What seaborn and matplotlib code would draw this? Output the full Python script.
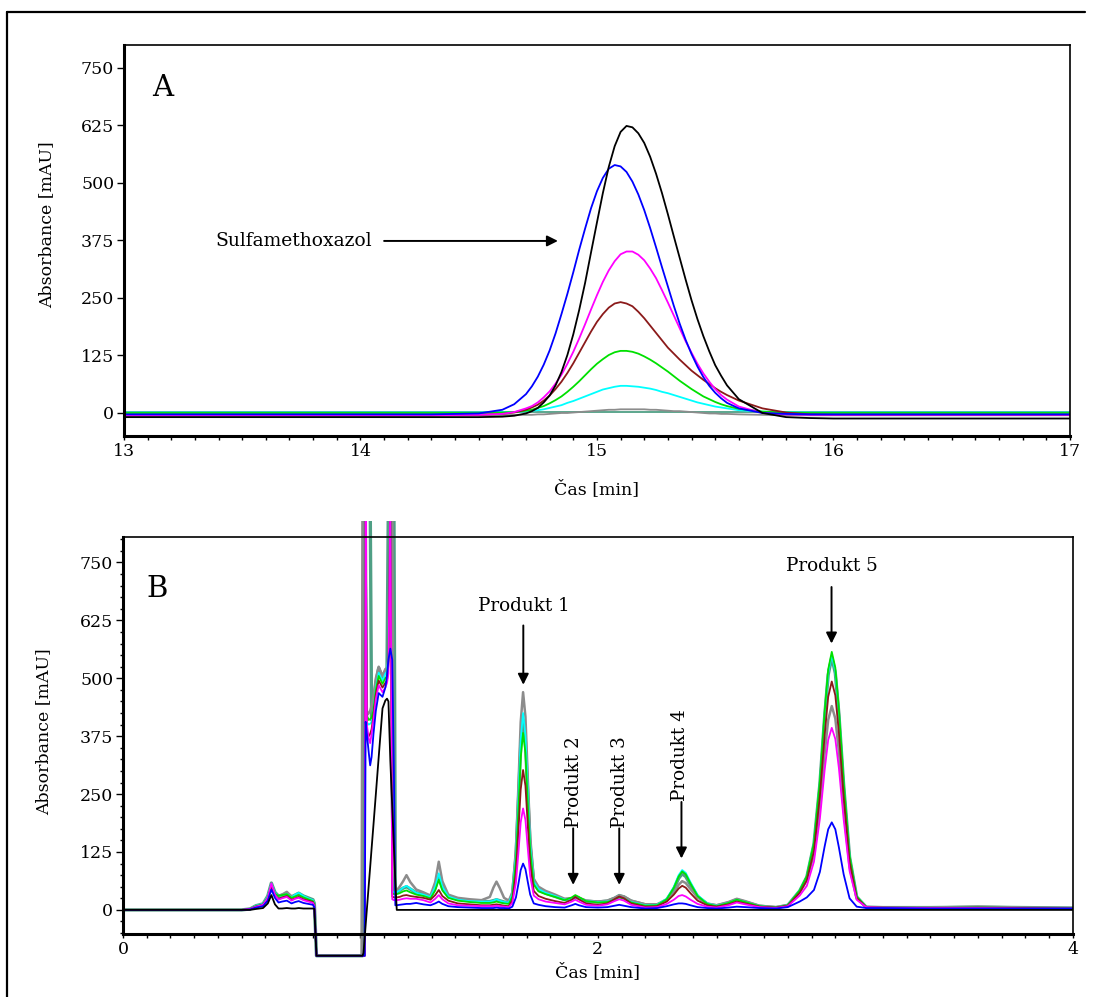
import pandas as pd
import matplotlib.pyplot as plt
import seaborn as sns
from matplotlib.patches import Rectangle
from matplotlib.lines import Line2D
from matplotlib.ticker import MultipleLocator

sns.set_theme(style="white")
plt.rcParams["font.family"] = ["DejaVu Serif"]
plt.rcParams["axes.edgecolor"] = "black"
plt.rcParams["xtick.color"] = "black"
plt.rcParams["ytick.color"] = "black"
plt.rcParams["text.color"] = "black"
plt.rcParams["axes.labelcolor"] = "black"

# ---------------- panel A : sulfamethoxazol peak (time in min, absorbance in mAU)
t_a = [13.0, 13.5, 14.0, 14.3, 14.5, 14.6, 14.65,
       14.7, 14.725, 14.75, 14.775, 14.8, 14.825, 14.85, 14.875, 14.9, 14.925, 14.95, 14.975,
       15.0, 15.025, 15.05, 15.075, 15.1, 15.125, 15.15, 15.175, 15.2, 15.225, 15.25, 15.275,
       15.3, 15.325, 15.35, 15.375, 15.4, 15.425, 15.45, 15.475, 15.5, 15.525, 15.55,
       15.6, 15.7, 15.8, 15.9, 16.0, 16.5, 17.0]

black_a = [-9, -9, -9, -9, -9, -8, -6,
           -1, 4, 11, 23, 38, 60, 89, 126, 171, 224, 283, 349,
           414, 478, 535, 580, 611, 624, 621, 608, 587, 557, 520, 478,
           432, 384, 337, 290, 245, 204, 167, 134, 104, 81, 60,
           30, 0, -9, -11, -12, -12, -12]
blue_a = [-3, -3, -3, -3, -1, 7, 19,
          41, 58, 79, 105, 136, 173, 215, 259, 306, 355, 401, 445,
          482, 511, 531, 539, 536, 524, 503, 475, 441, 402, 360, 317,
          275, 233, 194, 159, 128, 101, 78, 59, 44, 32, 22,
          10, 0, -2, -3, -3, -3, -3]
magenta_a = [-5, -5, -5, -5, -4, -2, 2,
             10, 15, 23, 34, 47, 64, 83, 107, 133, 162, 193, 225,
             256, 285, 310, 330, 345, 351, 351, 344, 332, 314, 293, 267,
             240, 212, 184, 156, 131, 107, 86, 68, 52, 39, 29,
             14, 0, -3, -4, -4, -4, -4]
brown_a = [-4, -4, -4, -4, -4, -2, 1,
           7, 12, 18, 27, 38, 52, 68, 87, 108, 131, 154, 177,
           198, 215, 229, 238, 241, 238, 232, 220, 206, 190, 174, 158,
           142, 129, 116, 104, 92, 82, 72, 63, 54, 46, 39,
           27, 10, 1, -3, -4, -4, -4]
green_a = [0, 0, 0, 0, 0, 1, 2,
           5, 7, 11, 15, 21, 28, 36, 46, 57, 69, 82, 95,
           107, 117, 126, 132, 135, 135, 133, 129, 123, 116, 108, 99,
           90, 80, 70, 61, 52, 44, 36, 30, 24, 19, 15,
           9, 3, 1, 0, 0, 0, 0]
cyan_a = [1, 1, 1, 1, 1, 2, 2,
          4, 5, 6, 8, 11, 14, 17, 22, 26, 31, 36, 41,
          46, 51, 54, 57, 59, 59, 58, 57, 55, 53, 50, 46,
          43, 39, 35, 31, 27, 23, 20, 17, 14, 12, 10,
          6, 3, 2, 1, 1, 1, 1]
gray_a = [-8, -8, -7, -6, -5, -5, -4,
          -4, -4, -3, -3, -2, -1, 0, 0, 1, 2, 3, 4,
          5, 6, 7, 7, 8, 8, 8, 8, 8, 7, 7, 6,
          5, 4, 4, 3, 2, 1, 0, -1, -1, -2, -2,
          -3, -4, -5, -5, -5, -5, -5]
teal_a = [2, 2, 2, 2, 2, 2, 2,
          2, 2, 2, 2, 2, 2, 2, 2, 2, 2, 2, 2,
          2, 2, 2, 2, 2, 2, 2, 2, 2, 2, 2, 2,
          2, 2, 2, 2, 2, 2, 2, 2, 2, 2, 2,
          2, 2, 2, 2, 2, 2, 2]

# ---------------- panel B : degradation products
t_b = [0.0, 0.5, 0.535, 0.56, 0.59, 0.61, 0.625, 0.64, 0.655, 0.67, 0.69, 0.71, 0.725, 0.74, 0.76, 0.78, 0.8, 0.806, 0.815,
       1.005, 1.009, 1.013, 1.018, 1.022, 1.027, 1.035, 1.041, 1.047, 1.055, 1.065, 1.077, 1.093, 1.105, 1.112, 1.118, 1.126, 1.134, 1.141, 1.147, 1.153, 1.165,
       1.18, 1.194, 1.21, 1.235, 1.265, 1.295, 1.315, 1.33, 1.345, 1.37, 1.41, 1.46, 1.51, 1.545, 1.56, 1.573, 1.586, 1.605, 1.625,
       1.64, 1.655, 1.665, 1.675, 1.685, 1.695, 1.705, 1.715, 1.73, 1.75, 1.78, 1.82,
       1.86, 1.89, 1.905, 1.92, 1.95, 2.0, 2.04, 2.07, 2.09, 2.11, 2.14, 2.2, 2.25, 2.29, 2.32, 2.34, 2.355, 2.37, 2.39, 2.42, 2.46, 2.5, 2.55, 2.585, 2.62, 2.68, 2.75,
       2.8, 2.85, 2.88, 2.91, 2.935, 2.955, 2.97, 2.985, 3.0, 3.015, 3.035, 3.06, 3.09, 3.13, 3.2,
       3.4, 3.6, 3.8, 4.0]

gray_b = [0, 0, 2, 8, 12, 28, 52, 36, 28, 33, 39, 29, 31, 34, 28, 24, 20, 12, -99,
          -99, 900, 900, 900, 900, 420, 425, 430, 440, 460, 500, 525, 505, 520, 522, 540, 900, 900, 42, 42, 42, 50,
          62, 75, 60, 44, 38, 31, 60, 104, 62, 33, 26, 23, 21, 28, 48, 61, 48, 26, 20,
          38, 131, 262, 405, 470, 417, 282, 157, 67, 50, 41, 33,
          24, 25, 28, 26, 20, 18, 20, 26, 31, 29, 20, 12, 12, 20, 36, 54, 62, 58, 45, 27, 13, 10, 17, 24, 19, 9, 6,
          10, 38, 64, 120, 222, 338, 410, 440, 413, 342, 219, 93, 24, 6, 5,
          5, 7, 5, 4]
teal_b = [0, 0, 2, 9, 13, 30, 58, 38, 30, 32, 35, 28, 32, 36, 30, 26, 22, 14, -99,
          -99, -99, 900, 900, 900, 900, 900, 900, 410, 440, 490, 522, 500, 515, 520, 900, 900, 900, 900, 38, 38, 42,
          47, 50, 45, 37, 34, 28, 48, 72, 48, 29, 23, 20, 18, 18, 20, 22, 20, 17, 16,
          32, 113, 228, 354, 410, 362, 246, 137, 59, 43, 36, 29,
          22, 24, 28, 25, 19, 17, 19, 25, 31, 28, 19, 11, 11, 22, 45, 68, 78, 72, 54, 29, 13, 9, 15, 22, 17, 8, 5,
          10, 41, 71, 142, 272, 417, 508, 545, 511, 423, 270, 114, 28, 6, 5,
          5, 6, 5, 4]
cyan_b = [0, 0, 2, 9, 13, 29, 56, 37, 29, 31, 34, 27, 33, 37, 30, 25, 21, 13, -99,
          -99, -99, -99, -99, 900, 405, 400, 402, 405, 430, 480, 512, 495, 510, 515, 550, 900, 40, 38, 38, 38, 42,
          48, 52, 46, 37, 33, 28, 50, 79, 50, 29, 22, 19, 18, 18, 20, 23, 20, 17, 16,
          34, 118, 237, 367, 425, 377, 255, 142, 61, 45, 37, 30,
          22, 24, 28, 25, 19, 17, 18, 22, 26, 24, 17, 10, 11, 24, 50, 75, 86, 80, 60, 32, 14, 9, 15, 22, 17, 8, 5,
          10, 42, 72, 144, 275, 421, 513, 550, 516, 427, 273, 116, 29, 6, 5,
          4, 5, 4, 4]
green_b = [0, 0, 2, 8, 12, 27, 53, 35, 30, 32, 34, 26, 29, 32, 27, 23, 19, 12, -99,
           -99, -99, -99, -99, 900, 420, 410, 412, 415, 430, 475, 505, 488, 500, 505, 540, 900, 36, 34, 34, 34, 36,
           40, 42, 38, 33, 30, 25, 42, 65, 42, 26, 20, 17, 15, 15, 16, 18, 16, 14, 13,
           29, 105, 212, 329, 382, 339, 229, 127, 55, 40, 34, 28,
           21, 27, 32, 28, 19, 16, 17, 22, 27, 24, 16, 9, 10, 23, 48, 72, 83, 77, 57, 30, 13, 8, 15, 22, 17, 8, 5,
           10, 42, 73, 145, 278, 427, 519, 557, 523, 433, 277, 117, 29, 6, 5,
           4, 5, 4, 4]
brown_b = [0, 0, 2, 7, 11, 25, 50, 32, 24, 27, 30, 22, 25, 28, 23, 20, 17, 10, -99,
           -99, -99, -99, -99, 900, 380, 375, 380, 390, 420, 465, 495, 480, 490, 495, 530, 900, 29, 27, 27, 27, 28,
           31, 32, 30, 28, 26, 22, 32, 43, 30, 20, 14, 12, 10, 10, 11, 12, 11, 9, 8,
           21, 81, 167, 260, 302, 268, 181, 99, 41, 30, 24, 19,
           15, 22, 28, 23, 14, 11, 14, 23, 29, 25, 14, 7, 8, 18, 33, 46, 52, 48, 36, 20, 10, 7, 12, 18, 14, 7, 5,
           9, 37, 64, 127, 246, 377, 460, 493, 463, 383, 245, 104, 26, 6, 5,
           4, 5, 4, 3]
magenta_b = [0, 0, 2, 7, 11, 26, 57, 33, 22, 25, 28, 20, 24, 26, 21, 18, 15, 9, -99,
             -99, -99, -99, -99, 900, 400, 370, 360, 380, 410, 455, 485, 470, 480, 490, 510, 900, 23, 21, 21, 21, 22,
             24, 25, 24, 24, 21, 16, 24, 32, 23, 14, 10, 9, 8, 8, 8, 9, 8, 7, 6,
             15, 59, 121, 189, 219, 194, 132, 73, 31, 23, 18, 15,
             12, 18, 22, 18, 11, 9, 12, 19, 23, 20, 11, 5, 6, 13, 22, 30, 32, 29, 22, 13, 7, 5, 10, 16, 12, 6, 4,
             8, 31, 52, 104, 197, 302, 367, 393, 369, 306, 196, 84, 22, 6, 5,
             4, 4, 3, 3]
blue_b = [0, 0, 1, 5, 8, 20, 44, 26, 16, 18, 20, 14, 17, 19, 15, 13, 11, 6, -99,
          -99, -99, -99, -99, 406, 380, 340, 312, 330, 380, 430, 468, 460, 480, 505, 540, 564, 540, 300, 10, 10, 11,
          12, 13, 13, 15, 12, 10, 14, 18, 13, 8, 6, 5, 4, 4, 4, 5, 4, 4, 3,
          7, 27, 55, 86, 100, 88, 60, 33, 14, 11, 8, 6,
          5, 10, 13, 10, 6, 5, 6, 9, 11, 9, 6, 3, 4, 8, 12, 14, 14, 13, 10, 6, 4, 3, 5, 7, 6, 4, 3,
          6, 18, 27, 43, 82, 137, 174, 189, 174, 135, 77, 25, 7, 4, 4,
          3, 3, 3, 3]
black_b = [0, 0, 0, 2, 4, 14, 32, 12, 3, 3, 4, 3, 3, 4, 3, 3, 3, 2, -99,
           -99, -99, -93, -60, -33, 0, 53, 92, 132, 184, 250, 330, 435, 452, 456, 450, 322, 223, 136, 62, 0, 0,
           0, 0, 0, 0, 0, 0, 0, 0, 0, 0, 0, 0, 0, 0, 0, 0, 0, 0, 0,
           0, 0, 0, 0, 0, 0, 0, 0, 0, 0, 0, 0,
           0, 0, 0, 0, 0, 0, 0, 0, 0, 0, 0, 0, 0, 0, 0, 0, 0, 0, 0, 0, 0, 0, 0, 0, 0, 0, 0,
           0, 0, 0, 0, 0, 0, 0, 0, 0, 0, 0, 0, 0, 0, 0,
           0, 0, 0, 0]

runs = ["teal", "gray", "cyan", "green", "brown", "magenta", "blue", "black"]
palette = {"teal": "#4f9f85", "gray": "#8c8c8c", "cyan": "#00ffff", "green": "#00e000",
           "brown": "#8b1a1a", "magenta": "#ff00ff", "blue": "#0000ff", "black": "#000000"}

curves_a = {"teal": teal_a, "gray": gray_a, "cyan": cyan_a, "green": green_a,
            "brown": brown_a, "magenta": magenta_a, "blue": blue_a, "black": black_a}
curves_b = {"teal": teal_b, "gray": gray_b, "cyan": cyan_b, "green": green_b,
            "brown": brown_b, "magenta": magenta_b, "blue": blue_b, "black": black_b}

df_a = pd.concat([pd.DataFrame({"t": t_a, "v": curves_a[r], "run": r}) for r in runs], ignore_index=True)
df_b = pd.concat([pd.DataFrame({"t": t_b, "v": curves_b[r], "run": r}) for r in runs], ignore_index=True)

fig = plt.figure(figsize=(10.93, 9.97), dpi=100)
ax_a = fig.add_axes([0.1134, 0.5627, 0.8655, 0.3922])
ax_b = fig.add_axes([0.1125, 0.0632, 0.8690, 0.3982])

for ax, df in [(ax_a, df_a), (ax_b, df_b)]:
    sns.lineplot(data=df, x="t", y="v", hue="run", hue_order=runs, palette=palette,
                 estimator=None, sort=False, legend=False, linewidth=1.3, ax=ax)

# in B the grey and teal traces look heavier (they make the wide bands at the void peaks)
for run, line in zip(runs, ax_b.lines):
    if run == "teal":
        line.set_linewidth(2.4)
    elif run == "gray":
        line.set_linewidth(1.8)

# spikes in B run past the frame: clip them on a slightly larger box
clip_box = Rectangle((0, -0.12), 1, 1.16, transform=ax_b.transAxes, visible=False)
for line in ax_b.lines:
    line.set_clip_path(clip_box)

yt = [0, 125, 250, 375, 500, 625, 750]
for ax in (ax_a, ax_b):
    ax.set_yticks(yt)
    ax.set_yticklabels([str(v) for v in yt])
    ax.xaxis.set_minor_locator(MultipleLocator(0.1))
    ax.tick_params(axis="both", which="both", direction="out", labelsize=12.5, width=1)
    ax.tick_params(axis="x", which="both", length=3, pad=2)
    ax.tick_params(axis="y", which="major", length=5, pad=2)
    ax.tick_params(axis="y", which="minor", length=2.5)
    ax.tick_params(bottom=True, left=True, which="both")
    for side in ["left", "bottom"]:
        ax.spines[side].set_linewidth(2.2)
    for side in ["top", "right"]:
        ax.spines[side].set_linewidth(1.2)
    ax.set_ylabel("Absorbance [mAU]", fontsize=12.5)
    ax.set_xlabel("Čas [min]", fontsize=12.5)

ax_a.set_xlim(13, 17)
ax_a.set_ylim(-50, 800)
ax_a.set_xticks([13, 14, 15, 16, 17])
ax_a.set_xticklabels(["13", "14", "15", "16", "17"])
ax_a.yaxis.set_label_coords(-0.073, 0.54)
ax_a.xaxis.set_label_coords(0.5, -0.112)

ax_b.set_xlim(0, 4)
ax_b.set_ylim(-52, 805)
ax_b.set_xticks([0, 2, 4])
ax_b.set_xticklabels(["0", "2", "4"])
ax_b.yaxis.set_minor_locator(MultipleLocator(25))
ax_b.yaxis.set_label_coords(-0.074, 0.51)
ax_b.xaxis.set_label_coords(0.5, -0.073)

ax_a.text(0.03, 0.89, "A", transform=ax_a.transAxes, fontsize=21, ha="left", va="center")
ax_b.text(0.025, 0.869, "B", transform=ax_b.transAxes, fontsize=21, ha="left", va="center")

arrow = dict(arrowstyle="-|>", color="black", lw=1.4, mutation_scale=16, shrinkA=0, shrinkB=0)

ax_a.text(14.05, 374, "Sulfamethoxazol", fontsize=13.5, ha="right", va="center")
ax_a.annotate("", xy=(14.835, 374), xytext=(14.1, 374), arrowprops=arrow)

ax_b.text(1.69, 655, "Produkt 1", fontsize=13.2, ha="center", va="center")
ax_b.annotate("", xy=(1.686, 486), xytext=(1.686, 614), arrowprops=arrow)
ax_b.text(1.899, 275, "Produkt 2", fontsize=13.2, ha="center", va="center", rotation=90)
ax_b.annotate("", xy=(1.896, 54), xytext=(1.896, 176), arrowprops=arrow)
ax_b.text(2.093, 275, "Produkt 3", fontsize=13.2, ha="center", va="center", rotation=90)
ax_b.annotate("", xy=(2.09, 54), xytext=(2.09, 176), arrowprops=arrow)
ax_b.text(2.345, 334, "Produkt 4", fontsize=13.2, ha="center", va="center", rotation=90)
ax_b.annotate("", xy=(2.352, 111), xytext=(2.352, 233), arrowprops=arrow)
ax_b.text(2.984, 743, "Produkt 5", fontsize=13.2, ha="center", va="center")
ax_b.annotate("", xy=(2.984, 575), xytext=(2.984, 697), arrowprops=arrow)

# outer frame of the figure (left and top edges)
fig.add_artist(Line2D([0.0064, 0.0064], [0.0, 0.988], transform=fig.transFigure, color="black", lw=1.6))
fig.add_artist(Line2D([0.0064, 0.9927], [0.988, 0.988], transform=fig.transFigure, color="black", lw=1.6))

fig.savefig("out.png", dpi=100)
